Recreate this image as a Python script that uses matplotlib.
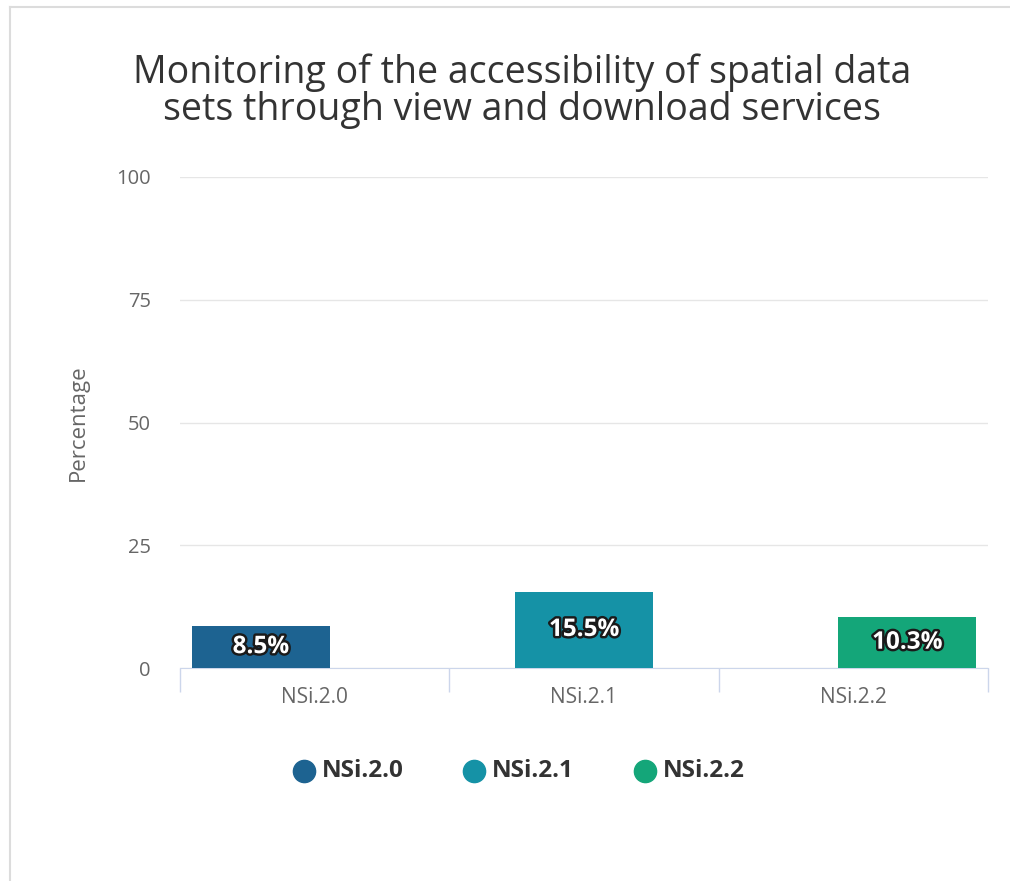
import matplotlib.pyplot as plt
import matplotlib.patheffects as pe
from matplotlib.lines import Line2D

categories = ["NSi.2.0", "NSi.2.1", "NSi.2.2"]
series_names = ["NSi.2.0", "NSi.2.1", "NSi.2.2"]
values = [8.5, 15.5, 10.3]
colors = ["#1d6391", "#1592a6", "#14a679"]
y_ticks = [0, 25, 50, 75, 100]

W, H = 1010, 881
fig = plt.figure(figsize=(W / 100, H / 100), dpi=100)
fig.patch.set_facecolor("white")

# light frame (top and left edge visible in the source screenshot)
fig.add_artist(Line2D([10 / W, 1], [1 - 7 / H, 1 - 7 / H], color="#dcdcdc", lw=1.5))
fig.add_artist(Line2D([10 / W, 10 / W], [0, 1 - 7 / H], color="#dcdcdc", lw=1.5))

ax = fig.add_axes([180 / W, 213 / H, 808 / W, 491 / H])
ax.set_xlim(-0.5, 2.5)
ax.set_ylim(0, 100)

bar_w = 0.513
offsets = [-0.2, 0.0, 0.2]
for i, (name, v, c) in enumerate(zip(series_names, values, colors)):
    x = i + offsets[i]
    ax.bar(x, v, width=bar_w, color=c, zorder=3)
    ax.text(x, v / 2, f"{v}%", ha="center", va="center", color="white",
            fontsize=17.5, fontweight="bold", family="Open Sans", zorder=4,
            path_effects=[pe.withStroke(linewidth=3.5, foreground="#1a1a1a")])

ax.set_yticks(y_ticks)
ax.set_yticklabels([str(t) for t in y_ticks], family="Open Sans", fontsize=14.5, color="#666666")
ax.yaxis.grid(True, color="#e6e6e6", lw=1)
ax.set_axisbelow(True)
ax.tick_params(axis="y", length=0, pad=21)

ax.set_xticks([-0.5, 0.5, 1.5, 2.5])
ax.set_xticklabels([])
ax.tick_params(axis="x", length=17, color="#ccd6eb", width=1)
ax.set_xticks([0, 1, 2], minor=True)
ax.set_xticklabels(categories, minor=True, family="Open Sans", fontsize=15, color="#666666")
ax.tick_params(axis="x", which="minor", length=0, pad=14)

for s in ["top", "right", "left"]:
    ax.spines[s].set_visible(False)
ax.spines["bottom"].set_color("#ccd6eb")

ax.set_ylabel("Percentage", family="Open Sans", fontsize=16, color="#666666")
ax.yaxis.set_label_coords(-(180 - 89) / 808, 0.5)

fig.text(522 / W, 1 - 91 / H,
         "Monitoring of the accessibility of spatial data\nsets through view and download services",
         ha="center", va="center", fontsize=27, color="#333333",
         family="Open Sans", linespacing=0.95)

# legend drawn item by item, like the source
legend_x = [304, 474, 645]
for name, c, lx in zip(series_names, colors, legend_x):
    fig.add_artist(Line2D([lx / W], [1 - 771 / H], marker="o", ls="", markersize=16,
                          markerfacecolor=c, markeredgecolor=c))
    fig.text((lx + 18) / W, 1 - 771 / H, name, ha="left", va="center",
             family="Open Sans", fontweight="bold", fontsize=17.5, color="#333333")

fig.savefig("out.png", dpi=100)
